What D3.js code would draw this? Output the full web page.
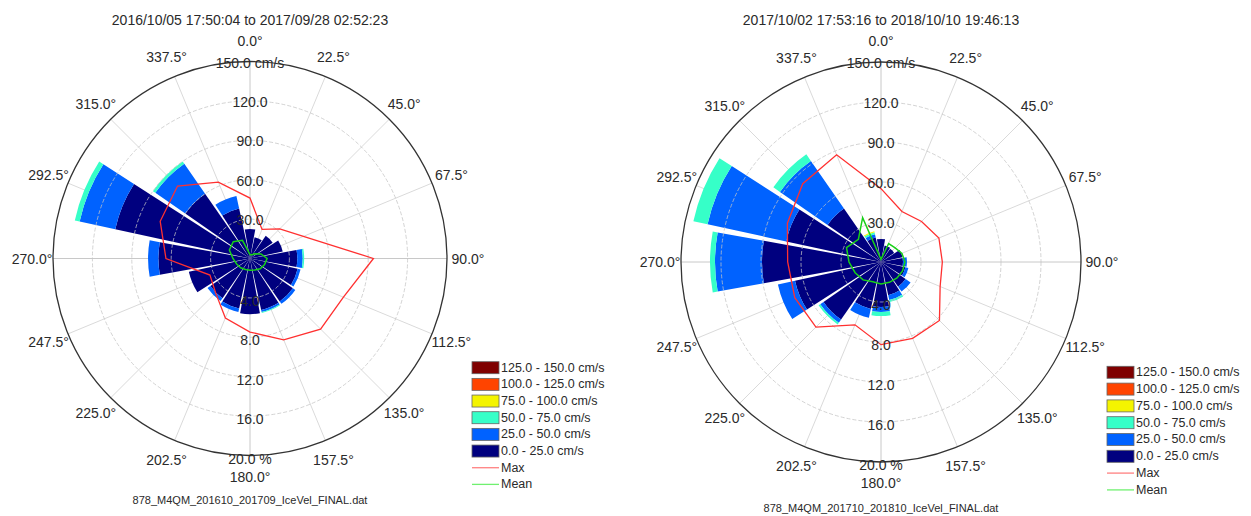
<!DOCTYPE html>
<html>
<head>
<meta charset="utf-8">
<script src="https://cdn.jsdelivr.net/npm/d3@7"></script>
<style>
  html, body { margin: 0; padding: 0; background: #fff; }
  svg { display: block; font-family: "Liberation Sans", Arial, sans-serif; }
</style>
</head>
<body>
<svg id="chart" width="1251" height="516"></svg>
<script>
// ---------------- DATA ----------------
const directions = [0, 22.5, 45, 67.5, 90, 112.5, 135, 157.5, 180, 202.5, 225, 247.5, 270, 292.5, 315, 337.5];
const speedClasses = ["0.0 - 25.0 cm/s", "25.0 - 50.0 cm/s", "50.0 - 75.0 cm/s", "75.0 - 100.0 cm/s", "100.0 - 125.0 cm/s", "125.0 - 150.0 cm/s"];
const speedColors = ["#00007f", "#0062ff", "#36ffc8", "#f4f400", "#ff4400", "#7f0000"];
const speedTicks = ["30.0", "60.0", "90.0", "120.0", "150.0 cm/s"];
const percentTicks = ["4.0", "8.0", "12.0", "16.0", "20.0 %"];
const angleLabels = ["0.0°", "22.5°", "45.0°", "67.5°", "90.0°", "112.5°", "135.0°", "157.5°", "180.0°", "202.5°", "225.0°", "247.5°", "270.0°", "292.5°", "315.0°", "337.5°"];

// Chart 1 (2016-2017): percent of time per speed class, per direction
const titleA = "2016/10/05 17:50:04 to 2017/09/28 02:52:23";
const fileA = "878_M4QM_201610_201709_IceVel_FINAL.dat";
const a_0_25   = [3.0, 2.2, 2.8, 3.4, 4.8, 4.95, 5.3, 5.35, 5.65, 5.2, 4.9, 6.35, 9.3, 14.0, 8.0, 5.2];
const a_25_50  = [0, 0, 0, 0, 0.55, 0.3, 0.3, 0.2, 0, 0.35, 0.35, 0, 1.05, 3.7, 3.7, 1.3];
const a_50_75  = [0, 0, 0, 0, 0.15, 0, 0, 0.1, 0, 0, 0, 0, 0, 0.5, 0.3, 0];
const a_75_100 = [0, 0, 0, 0, 0, 0, 0, 0, 0, 0, 0, 0, 0, 0, 0, 0];
const a_100_125 = [0, 0, 0, 0, 0, 0, 0, 0, 0, 0, 0, 0, 0, 0, 0, 0];
const a_125_150 = [0, 0, 0, 0, 0, 0, 0, 0, 0, 0, 0, 0, 0, 0, 0, 0];
const a_max  = [46, 24, 32, 44, 94, 77, 76, 67, 56, 49, 37, 33, 64, 74, 78, 63];
const a_mean = [3, 3, 5, 9, 13, 12, 11, 9.5, 9, 9, 10, 11, 13, 17, 18, 15];

// Chart 2 (2017-2018)
const titleB = "2017/10/02 17:53:16 to 2018/10/10 19:46:13";
const fileB = "878_M4QM_201710_201810_IceVel_FINAL.dat";
const b_0_25   = [2.3, 1.7, 1.6, 2.2, 2.2, 2.5, 3.0, 3.4, 4.5, 4.8, 7.0, 8.8, 11.9, 9.7, 6.5, 2.5];
const b_25_50  = [0, 0, 0, 0, 0.4, 0.3, 0.6, 0.5, 0.5, 0.9, 0.4, 1.75, 4.7, 8.05, 5.8, 0.35];
const b_50_75  = [0, 0, 0, 0, 0, 0, 0, 0.2, 0.4, 0, 0.2, 0, 0.5, 1.45, 0.8, 0.2];
const b_75_100 = [0, 0, 0, 0, 0, 0, 0, 0, 0, 0, 0, 0, 0, 0, 0, 0.1];
const b_100_125 = [0, 0, 0, 0, 0, 0, 0, 0, 0, 0, 0, 0, 0, 0, 0, 0];
const b_125_150 = [0, 0, 0, 0, 0, 0, 0, 0, 0, 0, 0, 0, 0, 0, 0, 0];
const b_max  = [55, 41, 43, 47, 46, 48, 62, 62, 62, 51, 69, 70, 70, 76, 83, 87];
const b_mean = [2, 15, 15, 17, 18, 17.5, 17, 16.5, 16.5, 16, 19, 21, 24, 28, 24, 36];

// ---------------- DRAW ----------------
const svg = d3.select("#chart");
const rad = d => d * Math.PI / 180;
const textColor = "#2a2a2a";

function drawRose(cfg) {
  const g = svg.append("g").attr("transform", `translate(${cfg.cx},${cfg.cy})`);
  const pct = d3.scaleLinear().domain([0, 20]).range([0, cfg.R]);
  const spd = d3.scaleLinear().domain([0, 150]).range([0, cfg.R]);
  const ringPct = [4, 8, 12, 16, 20];

  // spokes
  g.selectAll("line.spoke").data(directions).join("line")
    .attr("x1", 0).attr("y1", 0)
    .attr("x2", d => cfg.R * Math.sin(rad(d)))
    .attr("y2", d => -cfg.R * Math.cos(rad(d)))
    .attr("stroke", d => d % 90 === 0 ? "#c8c8c8" : "#dadada")
    .attr("stroke-width", 1);

  // stacked bars
  const stacks = directions.map((dir, i) => {
    let acc = 0;
    return cfg.classes.map((arr, k) => {
      const v0 = acc; acc += arr[i];
      return { dir, k, v0, v1: acc };
    }).filter(s => s.v1 > s.v0);
  }).flat();
  const halfW = 10.25;
  const arc = d3.arc()
    .innerRadius(d => pct(d.v0))
    .outerRadius(d => pct(d.v1))
    .startAngle(d => rad(d.dir - halfW))
    .endAngle(d => rad(d.dir + halfW));
  g.selectAll("path.bar").data(stacks).join("path")
    .attr("d", arc)
    .attr("fill", d => speedColors[d.k]);

  // rings (dashed) over bars
  g.selectAll("circle.ring").data(ringPct.slice(0, 4)).join("circle")
    .attr("r", d => pct(d))
    .attr("fill", "none")
    .attr("stroke", "#c4c4c4")
    .attr("stroke-opacity", 0.75)
    .attr("stroke-dasharray", "4,2")
    .attr("stroke-width", 1);
  g.append("circle").attr("r", cfg.R).attr("fill", "none")
    .attr("stroke", "#333").attr("stroke-width", 1.3);

  // max and mean lines
  const line = d3.lineRadial()
    .angle(d => rad(d.dir))
    .radius(d => spd(d.v))
    .curve(d3.curveLinearClosed);
  g.append("path")
    .attr("d", line(directions.map((dir, i) => ({ dir, v: cfg.max[i] }))))
    .attr("fill", "none").attr("stroke", "#ff3030").attr("stroke-width", 1.3);
  g.append("path")
    .attr("d", line(directions.map((dir, i) => ({ dir, v: cfg.mean[i] }))))
    .attr("fill", "none").attr("stroke", "#18d018").attr("stroke-width", 1.5);

  // ring labels
  g.selectAll("text.top").data(speedTicks).join("text")
    .attr("x", 0).attr("y", (d, i) => -pct(ringPct[i]) + 1)
    .attr("text-anchor", "middle").attr("dominant-baseline", "central")
    .attr("font-size", 14).attr("fill", textColor).text(d => d);
  g.selectAll("text.bot").data(percentTicks).join("text")
    .attr("x", 0).attr("y", (d, i) => pct(ringPct[i]) + 3)
    .attr("text-anchor", "middle").attr("dominant-baseline", "central")
    .attr("font-size", 14).attr("fill", textColor).text(d => d);

  // angle labels
  g.selectAll("text.ang").data(directions).join("text")
    .attr("x", d => cfg.rLab * Math.sin(rad(d)))
    .attr("y", d => -cfg.rLab * Math.cos(rad(d)))
    .attr("text-anchor", "middle").attr("dominant-baseline", "central")
    .attr("font-size", 14).attr("fill", textColor)
    .text((d, i) => angleLabels[i]);

  // title and file name
  svg.append("text").attr("x", cfg.cx).attr("y", 20)
    .attr("text-anchor", "middle").attr("dominant-baseline", "central")
    .attr("font-size", 14).attr("fill", textColor).text(cfg.title);
  svg.append("text").attr("x", cfg.cx).attr("y", cfg.fileY)
    .attr("text-anchor", "middle").attr("dominant-baseline", "central")
    .attr("font-size", 11).attr("fill", textColor).text(cfg.file);

  // legend
  const lg = svg.append("g").attr("transform", `translate(${cfg.lx},${cfg.ly})`);
  const order = [5, 4, 3, 2, 1, 0];
  order.forEach((k, j) => {
    const y = j * cfg.lstep;
    lg.append("rect").attr("x", 0).attr("y", y - 6).attr("width", 27).attr("height", 12)
      .attr("fill", speedColors[k]).attr("stroke", "#666").attr("stroke-width", 0.8);
    lg.append("text").attr("x", 29).attr("y", y).attr("dominant-baseline", "central")
      .attr("font-size", 12.5).attr("fill", textColor).text(speedClasses[k]);
  });
  [["Max", "#ff8080"], ["Mean", "#70f070"]].forEach((it, m) => {
    const y = (6 + m) * cfg.lstep;
    lg.append("line").attr("x1", 0).attr("x2", 27).attr("y1", y).attr("y2", y)
      .attr("stroke", it[1]).attr("stroke-width", 1.3);
    lg.append("text").attr("x", 29).attr("y", y).attr("dominant-baseline", "central")
      .attr("font-size", 12.5).attr("fill", textColor).text(it[0]);
  });
}

drawRose({
  cx: 250, cy: 258.5, R: 197, rLab: 218,
  classes: [a_0_25, a_25_50, a_50_75, a_75_100, a_100_125, a_125_150],
  max: a_max, mean: a_mean, title: titleA, file: fileA, fileY: 500,
  lx: 472, ly: 367.7, lstep: 16.67
});
drawRose({
  cx: 881, cy: 262, R: 200, rLab: 221,
  classes: [b_0_25, b_25_50, b_50_75, b_75_100, b_100_125, b_125_150],
  max: b_max, mean: b_mean, title: titleB, file: fileB, fileY: 508,
  lx: 1107, ly: 372.3, lstep: 16.8
});
</script>
</body>
</html>
